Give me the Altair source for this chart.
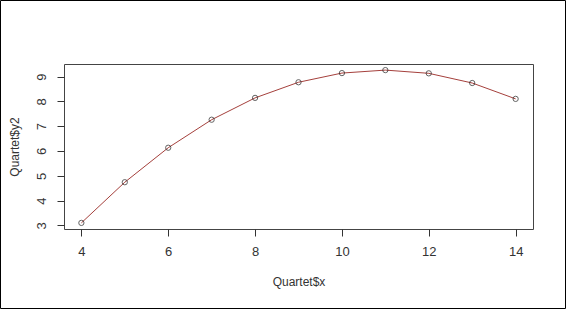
import altair as alt
import pandas as pd

x_vals = [4, 5, 6, 7, 8, 9, 10, 11, 12, 13, 14]
y2_vals = [3.10, 4.74, 6.13, 7.26, 8.14, 8.77, 9.14, 9.26, 9.13, 8.74, 8.10]
x_ticks = [4, 6, 8, 10, 12, 14]
y_ticks = [3, 4, 5, 6, 7, 8, 9]

df = pd.DataFrame({"x": x_vals, "y2": y2_vals})

W, H = 469, 165
FONT = "Liberation Sans"

xs = alt.Scale(domain=[3.6, 14.4], nice=False, zero=False)
ys = alt.Scale(domain=[2.854, 9.506], nice=False, zero=False)

xax = alt.Axis(values=x_ticks, tickCount=len(x_ticks), domain=False, grid=False, tickSize=7, tickColor="#333",
               labelPadding=9, labelFontSize=13, labelColor="#333", labelFont=FONT,
               labelOverlap=False,
               title="Quartet$x", titleFont=FONT, titleFontSize=12, titleFontWeight="normal",
               titleColor="#333", titlePadding=18)
yax = alt.Axis(values=y_ticks, tickCount=len(y_ticks), domain=False, grid=False, tickSize=7, tickColor="#333",
               labelAngle=270, labelAlign="center", labelBaseline="bottom",
               labelPadding=9, labelFontSize=13, labelColor="#333", labelFont=FONT,
               labelOverlap=False,
               title="Quartet$y2", titleFont=FONT, titleFontSize=12, titleFontWeight="normal",
               titleColor="#333", titlePadding=14)

base = alt.Chart(df)
line = base.mark_line(color="#a5403c", strokeWidth=1).encode(
    x=alt.X("x:Q", scale=xs, axis=xax),
    y=alt.Y("y2:Q", scale=ys, axis=yax),
)
pts = base.mark_point(shape="circle", filled=False, color="#222", size=28, strokeWidth=1).encode(
    x=alt.X("x:Q", scale=xs),
    y=alt.Y("y2:Q", scale=ys),
)
frame = alt.Chart(pd.DataFrame({"a": [0]})).mark_rect(
    fill=None, stroke="black", strokeWidth=1, clip=False
).encode(
    x=alt.value(-63.5), x2=alt.value(W + 32.5),
    y=alt.value(-63.5), y2=alt.value(H + 79.5),
)

chart = alt.layer(line, pts, frame).properties(
    width=W, height=H,
    autosize=alt.AutoSizeParams(type="none"),
    padding={"left": 64, "top": 64, "right": 33, "bottom": 80},
    background="white",
).configure_view(stroke="#444", strokeWidth=1)

chart.save("out.html", embed_options={"renderer": "svg", "actions": False})
